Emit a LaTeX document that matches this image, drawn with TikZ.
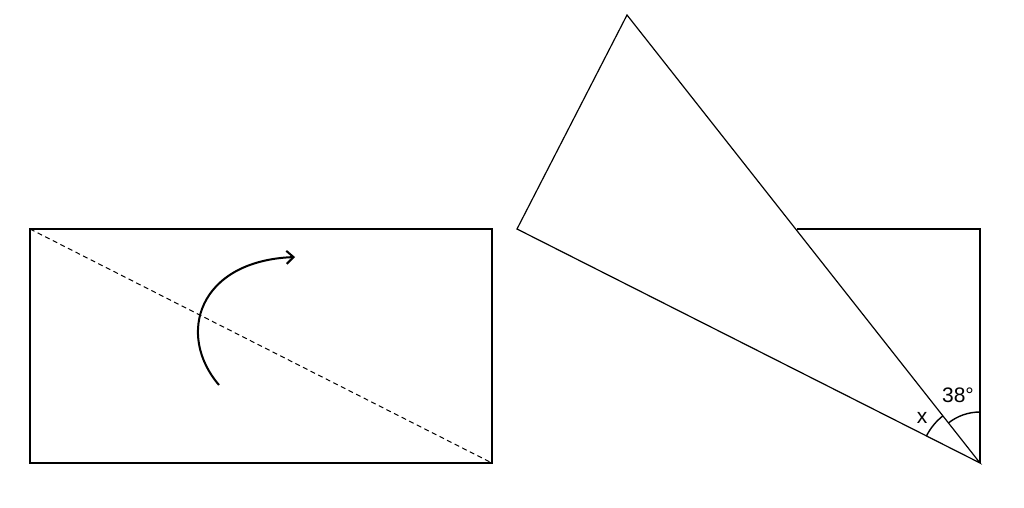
\documentclass[tikz,border=0pt]{standalone}
\usepackage{fontspec}
\setmainfont{Liberation Sans}
\usetikzlibrary{arrows.meta}

\begin{document}
\begin{tikzpicture}[x=1pt, y=1pt]
  \tikzstyle{paper} = [black, line width=1.2pt];
  \tikzstyle{foldLine} = [black, line width=1pt, dash pattern=on 5pt off 3.5pt];
  \tikzstyle{turnArrow} = [black, line width=2pt, -{Straight Barb[length=7pt,width=13pt]}];
  \tikzstyle{angleArc} = [black, line width=1.4pt];
  \tikzstyle{angleLabel} = [font={\fontsize{21}{25}\selectfont}, inner sep=0pt];

  \useasboundingbox (0,0) rectangle (1024,507);

  % flat sheet
  \coordinate (tl) at (30,278);
  \coordinate (br) at (492,44);
  \draw[paper] (tl) rectangle (br);
  \draw[foldLine] (tl) -- (br);
  \coordinate (turnStart) at (219,122);
  \coordinate (turnEnd) at (295,250);
  \draw[turnArrow] (turnStart) .. controls (176,172) and (198,246) .. (turnEnd);

  % folded sheet
  \coordinate (v) at (980,44);
  \coordinate (rt) at (980,278);
  \coordinate (ft) at (797,278);
  \coordinate (apex) at (627,492);
  \coordinate (lc) at (517,278);
  \draw[paper] (ft) -- (rt) -- (v);
  \draw[paper] (v) -- (apex) -- (lc) -- cycle;

  % angles
  \draw[angleArc] ([shift={(90:51)}]v) arc (90:128.2:51);
  \draw[angleArc] ([shift={(128.2:60)}]v) arc (128.2:153.2:60);
  \node[angleLabel] (a38) at (958,112) {38°};
  \node[angleLabel] (ax) at (922,89) {x};
\end{tikzpicture}
\end{document}
